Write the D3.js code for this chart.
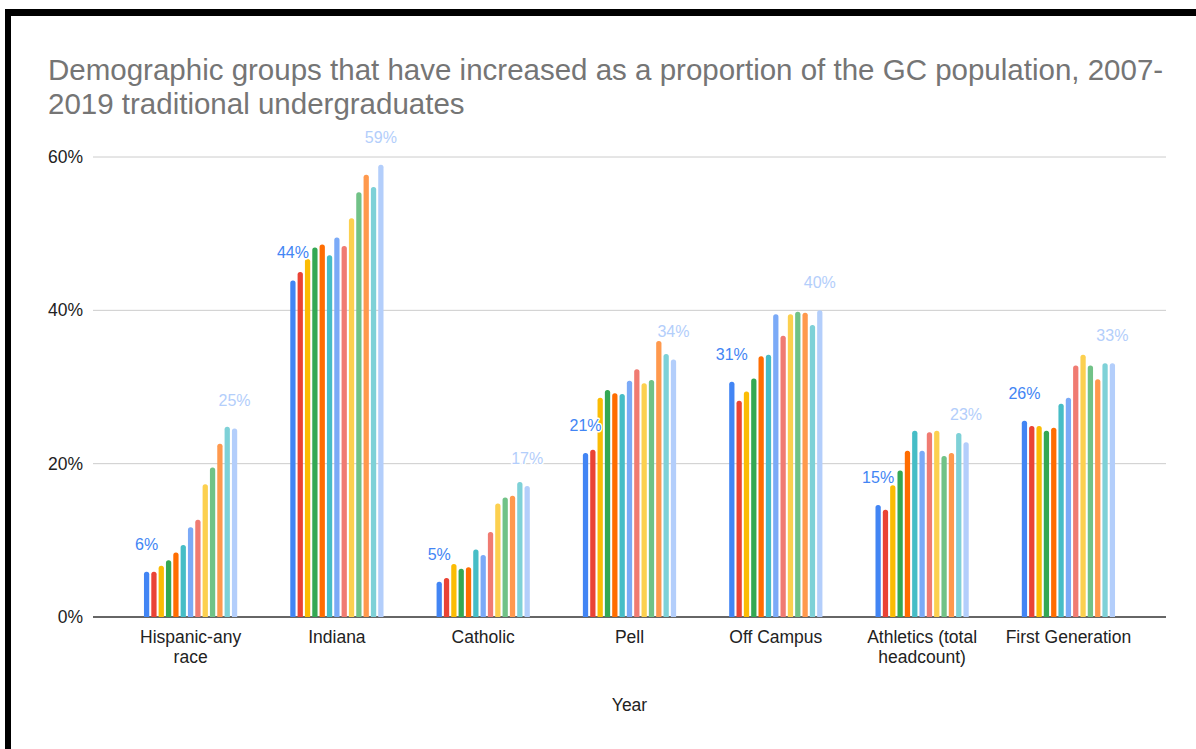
<!DOCTYPE html>
<html lang="en">
<head>
    <meta charset="UTF-8">
    <title>Demographic groups</title>
    <script src="https://d3js.org/d3.v7.min.js"></script>
    <style>
        body { margin: 0; background: white; }
        svg { display: block; font-family: "Liberation Sans", Arial, sans-serif; }
        .lbl { paint-order: stroke; stroke: white; stroke-width: 3px; stroke-linejoin: round; }
    </style>
</head>
<body>
<div id="chart"></div>
<script>
    // categories on the x axis (multi-line labels split by "|")
    const categories = ["Hispanic-any|race", "Indiana", "Catholic", "Pell", "Off Campus", "Athletics (total|headcount)", "First Generation"];

    // one series per year, 2007-2019
    const years = ["2007", "2008", "2009", "2010", "2011", "2012", "2013", "2014", "2015", "2016", "2017", "2018", "2019"];

    const colors = ["#4285f4", "#ea4335", "#fbbc04", "#34a853", "#ff6d01", "#46bdc6", "#7baaf7",
                    "#f07b72", "#fcd04f", "#71c287", "#ff994d", "#7ed1d7", "#b3cefb"];

    // values in % (rows = categories, columns = years)
    const hispanic  = [5.9, 5.9, 6.7, 7.4, 8.4, 9.4, 11.7, 12.7, 17.3, 19.5, 22.6, 24.8, 24.6];
    const indiana   = [43.9, 45.0, 46.7, 48.2, 48.6, 47.2, 49.5, 48.4, 52.0, 55.4, 57.7, 56.1, 59.0];
    const catholic  = [4.6, 5.1, 6.9, 6.3, 6.5, 8.8, 8.1, 11.1, 14.8, 15.6, 15.8, 17.6, 17.1];
    const pell      = [21.4, 21.8, 28.6, 29.6, 29.2, 29.1, 30.8, 32.3, 30.5, 30.9, 36.0, 34.3, 33.6];
    const offCampus = [30.7, 28.2, 29.4, 31.1, 34.0, 34.2, 39.5, 36.7, 39.5, 39.8, 39.7, 38.1, 40.0];
    const athletics = [14.6, 14.0, 17.2, 19.1, 21.7, 24.3, 21.7, 24.1, 24.3, 21.0, 21.4, 24.0, 22.8];
    const firstGen  = [25.6, 24.9, 24.9, 24.3, 24.7, 27.8, 28.6, 32.8, 34.2, 32.8, 31.0, 33.1, 33.1];

    const values = [hispanic, indiana, catholic, pell, offCampus, athletics, firstGen];
    const yTicks = [0, 20, 40, 60];

    const W = 1196, H = 749;
    const margin = { top: 157, right: 30, bottom: 132, left: 93 };
    const width = W - margin.left - margin.right,
          height = H - margin.top - margin.bottom;

    const svg = d3.select("#chart").append("svg")
        .attr("width", W).attr("height", H);

    // black frame pieces at top and left
    svg.append("rect").attr("x", 5).attr("y", 9).attr("width", W - 5).attr("height", 7).attr("fill", "#000");
    svg.append("rect").attr("x", 5).attr("y", 9).attr("width", 6).attr("height", H - 9).attr("fill", "#000");

    // title
    const title = svg.append("text").attr("fill", "#757575").attr("font-size", "29.5px");
    title.append("tspan").attr("x", 48).attr("y", 80)
        .text("Demographic groups that have increased as a proportion of the GC population, 2007-");
    title.append("tspan").attr("x", 48).attr("y", 114)
        .text("2019 traditional undergraduates");

    const g = svg.append("g").attr("transform", `translate(${margin.left},${margin.top})`);

    const x = d3.scaleBand().domain(categories).range([0, width])
        .paddingInner(0).paddingOuter(0.167);
    const xs = d3.scaleBand().domain(years).range([0, x.bandwidth()])
        .paddingInner(0.28).paddingOuter(3.62);
    const y = d3.scaleLinear().domain([0, 60]).range([height, 0]);

    // gridlines + y labels
    g.selectAll(".grid").data(yTicks).enter().append("line")
        .attr("x1", 0).attr("x2", width)
        .attr("y1", d => y(d)).attr("y2", d => y(d))
        .attr("stroke", d => d === 0 ? "#333" : "#cccccc")
        .attr("stroke-width", d => d === 0 ? 1.5 : 1);

    g.selectAll(".ytick").data(yTicks).enter().append("text")
        .attr("x", -10).attr("y", d => y(d)).attr("dy", "0.35em")
        .attr("text-anchor", "end").attr("font-size", "17.5px").attr("fill", "#222")
        .text(d => d + "%");

    // bars with rounded tops
    const r = 2.5;
    function barPath(x0, w, yTop, yBase) {
        const rr = Math.min(r, w / 2, (yBase - yTop));
        return `M${x0},${yBase}V${yTop + rr}Q${x0},${yTop} ${x0 + rr},${yTop}` +
               `H${x0 + w - rr}Q${x0 + w},${yTop} ${x0 + w},${yTop + rr}V${yBase}Z`;
    }

    const groups = g.selectAll(".cat").data(categories).enter().append("g")
        .attr("transform", d => `translate(${x(d)},0)`);

    groups.each(function(cat, ci) {
        const grp = d3.select(this);
        grp.selectAll("path").data(values[ci]).enter().append("path")
            .attr("d", (v, i) => barPath(xs(years[i]), xs.bandwidth(), y(v), y(0)))
            .attr("fill", (v, i) => colors[i]);

        // data labels for first and last year only
        [0, years.length - 1].forEach(i => {
            const v = values[ci][i];
            grp.append("text").attr("class", "lbl")
                .attr("x", xs(years[i]) + xs.bandwidth() / 2)
                .attr("y", y(v) - 22)
                .attr("text-anchor", "middle")
                .attr("font-size", "16px")
                .attr("fill", colors[i])
                .text(Math.round(v) + "%");
        });
    });

    // x axis labels
    const xl = g.selectAll(".xl").data(categories).enter().append("text")
        .attr("text-anchor", "middle").attr("font-size", "17.5px").attr("fill", "#222")
        .attr("transform", d => `translate(${x(d) + x.bandwidth() / 2},${height + 26})`);
    xl.each(function(d) {
        d3.select(this).selectAll("tspan").data(d.split("|")).enter().append("tspan")
            .attr("x", 0).attr("dy", (t, i) => i === 0 ? 0 : 20).text(t => t);
    });

    // x axis title
    g.append("text").attr("x", width / 2).attr("y", height + 94)
        .attr("text-anchor", "middle").attr("font-size", "17.5px").attr("fill", "#222")
        .text("Year");
</script>
</body>
</html>
